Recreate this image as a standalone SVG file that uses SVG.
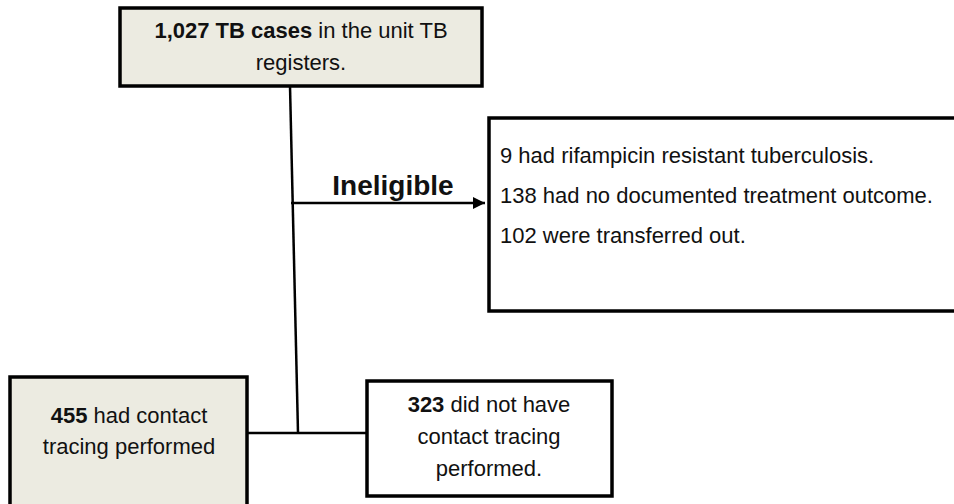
<svg xmlns="http://www.w3.org/2000/svg" width="954" height="504" viewBox="0 0 954 504">
<defs>
<marker id="arr" viewBox="0 0 10 10" refX="10" refY="5" markerWidth="5" markerHeight="5" markerUnits="strokeWidth" orient="auto">
<path d="M0,0 L10,5 L0,10 z" fill="#000"/>
</marker>
<style>
.box{stroke:#000;stroke-width:3.5}
.beige{fill:#ecebe1}
.white{fill:#fff}
text{font-family:"Liberation Sans",Arial,sans-serif;fill:#111}
.t{font-size:22px}
.c{text-anchor:middle}
.b{font-weight:bold}
.line{stroke:#000;stroke-width:2.5;fill:none}
</style>
</defs>
<rect width="954" height="504" fill="#fff"/>
<g id="connectors">
<line class="line" x1="290" y1="86" x2="298" y2="433"/>
<line class="line" x1="291" y1="203" x2="485" y2="203" marker-end="url(#arr)"/>
<line class="line" x1="247" y1="433" x2="367" y2="433"/>
<text x="393" y="195" class="b c" font-size="28">Ineligible</text>
</g>
<g id="n1">
<rect class="box beige" x="120" y="8" width="362" height="78"/>
<text class="t c" x="301" y="38"><tspan class="b">1,027 TB cases</tspan> in the unit TB</text>
<text class="t c" x="301" y="70">registers.</text>
</g>
<g id="n2">
<rect class="box white" x="489" y="118" width="470" height="193"/>
<text class="t" x="500" y="163">9 had rifampicin resistant tuberculosis.</text>
<text class="t" x="500" y="203">138 had no documented treatment outcome.</text>
<text class="t" x="500" y="243">102 were transferred out.</text>
</g>
<g id="n3">
<rect class="box beige" x="10" y="377" width="237" height="135"/>
<text class="t c" x="129" y="423"><tspan class="b">455</tspan> had contact</text>
<text class="t c" x="129" y="454">tracing performed</text>
</g>
<g id="n4">
<rect class="box white" x="367" y="381" width="245" height="115"/>
<text class="t c" x="489" y="412"><tspan class="b">323</tspan> did not have</text>
<text class="t c" x="489" y="444">contact tracing</text>
<text class="t c" x="489" y="476">performed.</text>
</g>
</svg>
